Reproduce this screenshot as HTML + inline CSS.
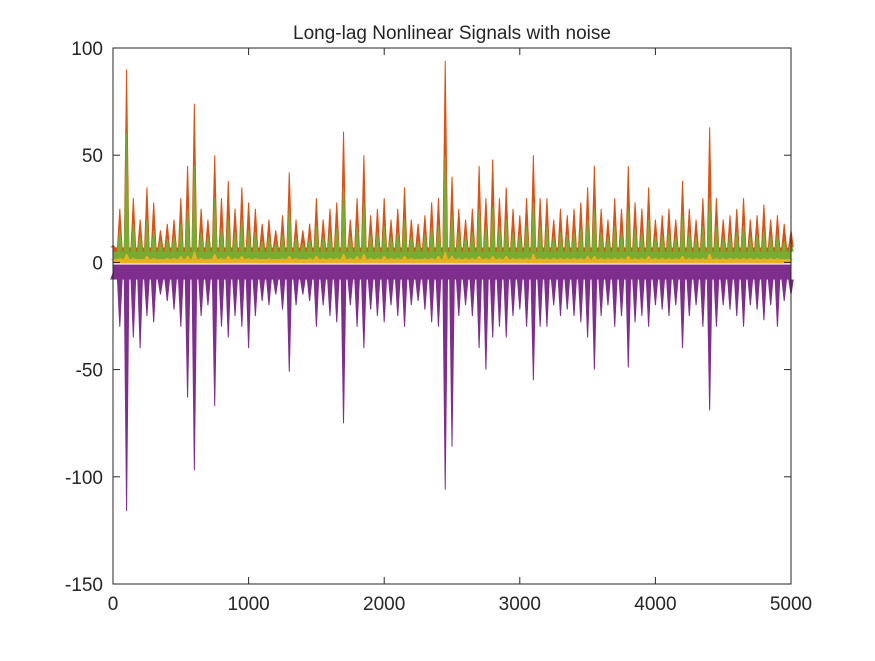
<!DOCTYPE html>
<html><head><meta charset="utf-8"><style>
body{margin:0;background:#fff;}
svg text{font-family:"Liberation Sans",sans-serif;fill:#262626;}
</style></head><body>
<svg id="chart" width="875" height="656" viewBox="0 0 875 656" xmlns="http://www.w3.org/2000/svg">
<rect width="875" height="656" fill="#fff"/>
<text x="452" y="39" font-size="19" text-anchor="middle">Long-lag Nonlinear Signals with noise</text>
<g id="series"></g>
<g id="axes"></g>
</svg>
<script>
const xTicks=[0,1000,2000,3000,4000,5000];
const yTicks=[100,50,0,-50,-100,-150];
const xStep=50;
const orange=[8,25,90,30,20,35,28,15,18,20,30,45,74,25,20,50,30,38,25,35,28,25,18,20,15,22,42,20,15,18,30,20,25,28,61,20,30,50,22,25,30,20,25,35,20,18,22,28,30,94,40,25,20,25,45,30,48,30,35,25,22,30,50,30,30,20,25,22,25,28,35,45,25,20,30,25,45,28,25,35,20,22,25,20,38,25,20,30,63,30,20,22,25,30,20,22,27,20,22,18,15];
const green=[5,15,60,18,12,20,15,10,11,12,18,25,45,14,12,30,16,20,14,20,15,14,10,12,9,13,25,12,9,11,17,12,14,16,35,12,17,28,13,14,17,12,14,20,12,10,13,16,17,50,22,14,12,14,25,17,26,17,20,14,13,17,28,17,17,12,14,13,14,16,20,25,14,12,17,14,25,16,14,20,12,13,14,12,22,14,12,17,30,17,12,13,14,17,12,13,15,12,13,10,9];
const purple=[-5,-30,-116,-35,-40,-25,-28,-15,-18,-22,-30,-63,-97,-25,-20,-67,-30,-35,-25,-30,-40,-25,-18,-20,-15,-22,-51,-20,-15,-18,-30,-20,-25,-28,-75,-20,-30,-40,-22,-25,-28,-20,-25,-30,-20,-18,-22,-28,-30,-106,-86,-25,-20,-25,-40,-50,-35,-30,-35,-25,-22,-30,-55,-30,-30,-20,-25,-22,-25,-28,-35,-50,-25,-20,-30,-25,-49,-28,-25,-30,-20,-22,-25,-20,-40,-25,-20,-30,-69,-30,-20,-22,-25,-30,-20,-22,-27,-20,-30,-18,-15];
const yellow=[1,2,4,2,1,3,2,1,2,2,3,3,5,2,1,4,2,3,2,3,2,2,1,2,1,2,3,2,1,2,3,2,2,2,4,2,3,4,2,2,3,2,2,3,2,1,2,2,3,5,3,2,2,2,3,2,3,2,3,2,2,2,4,2,2,2,2,2,2,2,3,3,2,2,2,2,3,2,2,3,2,2,2,2,3,2,2,2,4,2,2,2,2,2,2,2,2,2,2,1,1];
const X0=113,X1=791,Y0=48,Y1=584;
const sx=v=>X0+(v-0)/(5000-0)*(X1-X0);
const sy=v=>Y0+(100-v)/(100+150)*(Y1-Y0);
const NS="http://www.w3.org/2000/svg";
const g=document.getElementById('series');
function mk(t,a){const e=document.createElementNS(NS,t);for(const k in a)e.setAttribute(k,a[k]);return e;}
function drawSeries(vals,color,name,band,base){
  const grp=mk('g',{});
  
  
  const r=mk('rect',{x:X0,y:Math.min(sy(band),sy(base)),width:X1-X0,height:Math.abs(sy(band)-sy(base)),fill:color});
  grp.appendChild(r);
  vals.forEach((v,i)=>{
    const x=sx(i*xStep);
    const p=mk('polygon',{points:(x-2.8)+','+sy(band)+' '+(x-0.5)+','+sy(v)+' '+(x+0.5)+','+sy(v)+' '+(x+2.8)+','+sy(band),fill:color});
    
    
    grp.appendChild(p);
  });
  g.appendChild(grp);
}
drawSeries(purple,'#7E2F8E','series-purple',-8,-1);
drawSeries(orange,'#D95319','series-orange',7,0);
drawSeries(green,'#77AC30','series-green',5,0);
drawSeries(yellow,'#EDB120','series-yellow',1.5,-0.5);
const ax=document.getElementById('axes');
const box=mk('rect',{x:X0,y:Y0,width:X1-X0,height:Y1-Y0,fill:'none',stroke:'#262626','stroke-width':1});


ax.appendChild(box);
xTicks.forEach(t=>{
  const x=sx(t);
  ax.appendChild(mk('line',{x1:x,x2:x,y1:Y1,y2:Y1-7,stroke:'#262626'}));
  ax.appendChild(mk('line',{x1:x,x2:x,y1:Y0,y2:Y0+7,stroke:'#262626'}));
  const tx=mk('text',{x:x,y:Y1+26,'font-size':19,'text-anchor':'middle'});
  
  
  tx.textContent=t;ax.appendChild(tx);
});
yTicks.forEach(t=>{
  const y=sy(t);
  ax.appendChild(mk('line',{x1:X0,x2:X0+7,y1:y,y2:y,stroke:'#262626'}));
  ax.appendChild(mk('line',{x1:X1,x2:X1-7,y1:y,y2:y,stroke:'#262626'}));
  const tx=mk('text',{x:X0-10,y:y+7,'font-size':19,'text-anchor':'end'});
  
  
  tx.textContent=t;ax.appendChild(tx);
});
</script>
</body></html>
